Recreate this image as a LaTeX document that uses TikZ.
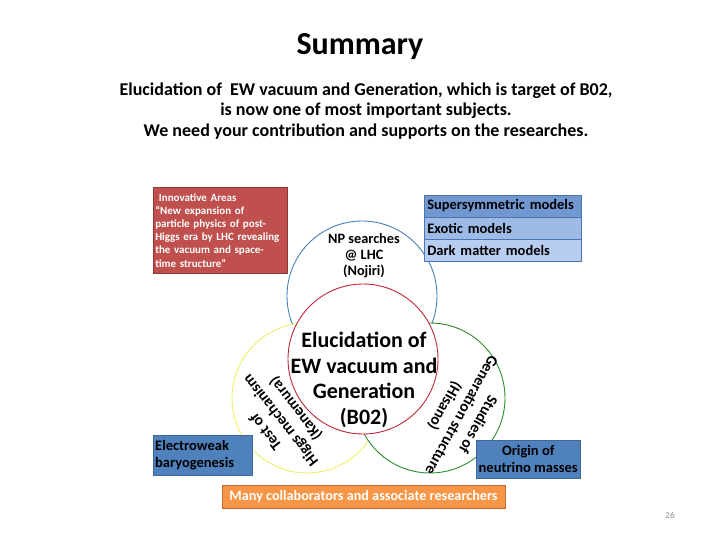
\documentclass[tikz,border=0pt]{standalone}
\usepackage{fontspec}
\setmainfont{Carlito}
\usetikzlibrary{positioning}
\definecolor{areared}{HTML}{C0504D}
\definecolor{areadark}{HTML}{8C3836}
\definecolor{modeltop}{HTML}{7298D2}
\definecolor{modelmid}{HTML}{9EBBE8}
\definecolor{modellow}{HTML}{B8CEF0}
\definecolor{modeledge}{HTML}{4A74B4}
\definecolor{topicblue}{HTML}{4F81BD}
\definecolor{collorange}{HTML}{F79646}
\definecolor{colledge}{HTML}{C8692A}
\definecolor{npblue}{HTML}{4A7EBB}
\definecolor{ewred}{HTML}{C0283A}
\definecolor{higgsyellow}{HTML}{EEEE66}
\definecolor{gengreen}{HTML}{2E8B2E}
\definecolor{pagegray}{HTML}{8C8C8C}

\begin{document}
\begin{tikzpicture}[
    x=1pt, y=-1pt,
    venn/.style={circle, draw, fill=white, line width=0.9pt, minimum size=150pt, inner sep=0pt},
    vtext/.style={align=center, font=\bfseries\fontsize{15.5}{19}\selectfont, inner sep=0pt},
    model/.style={draw=modeledge, line width=0.5pt, minimum width=157pt, minimum height=21.6pt, anchor=north west, text width=151pt, align=left, inner sep=3pt, font=\bfseries\fontsize{14.5}{16}\selectfont},
    topic/.style={fill=topicblue, draw=topicblue!80!black, line width=0.4pt, inner sep=3pt, font=\bfseries\fontsize{14.5}{16.5}\selectfont}
]
\useasboundingbox (0,0) rectangle (720,540);

\node[font=\bfseries\fontsize{32}{36}\selectfont] (title) at (360,47) {Summary};
\node[align=center, font=\bfseries\fontsize{18}{20.5}\selectfont] (intro) at (366,111)
    {Elucidation of\ \ EW vacuum and Generation, which is target of B02,\\
     is now one of most important subjects.\\
     We need your contribution and supports on the researches.};

% circles
\node[venn, draw=npblue] (np) at (362,296) {};
\node[venn, draw=higgsyellow] (higgs) at (307,398) {};
\node[venn, draw=gengreen] (gen) at (430,398) {};
\node[venn, draw=ewred] (ew) at (363,359) {};

\node[vtext, font=\bfseries\fontsize{14.3}{16}\selectfont] (nptext) at (364,256) {NP searches\\@ LHC\\(Nojiri)};
\node[vtext, font=\bfseries\fontsize{22}{25.5}\selectfont] (ewtext) at (364,380)
    {Elucidation of\\EW vacuum and\\Generation\\(B02)};
\node[vtext, rotate=128] (higgstext) at (281,420) {Test of\\Higgs mechanism\\(Kanemura)};
\node[vtext, rotate=-119] (gentext) at (461,415) {Studies of\\Generation structure\\(Hisano)};

% boxes
\node[fill=areared, draw=areadark, line width=0.5pt, anchor=north west, minimum width=134pt,
      minimum height=86pt, text width=130pt, inner sep=2pt, align=left, text=white,
      font=\bfseries\fontsize{11}{13.2}\selectfont] (areas) at (153,187)
    {\ Innovative Areas\\
     “New expansion of\\
     particle physics of post-\\
     Higgs era by LHC revealing\\
     the vacuum and space-\\
     time structure”};

\node[model, fill=modeltop] (susy) at (424,195) {Supersymmetric models};
\node[model, fill=modelmid, below=0pt of susy] (exotic) {Exotic models};
\node[model, fill=modellow, below=0pt of exotic] (dark) {Dark matter models};

\node[topic, anchor=north west, minimum width=99pt, minimum height=40pt, text width=95pt, inner sep=2pt, align=left]
    (ewbg) at (153,435) {Electroweak\\baryogenesis};
\node[topic, anchor=north west, minimum width=104pt, minimum height=38pt, inner sep=1pt, align=center]
    (neutrino) at (476,440) {Origin of\\neutrino masses};

\node[fill=collorange, draw=colledge, line width=0.5pt, minimum width=283pt, minimum height=23pt,
      text=white, font=\bfseries\fontsize{14.2}{16}\selectfont] (collab) at (363.5,496.5)
    {Many collaborators and associate researchers};

\node[text=pagegray, font=\fontsize{9}{10}\selectfont] (page) at (670,515) {26};
\end{tikzpicture}
\end{document}
